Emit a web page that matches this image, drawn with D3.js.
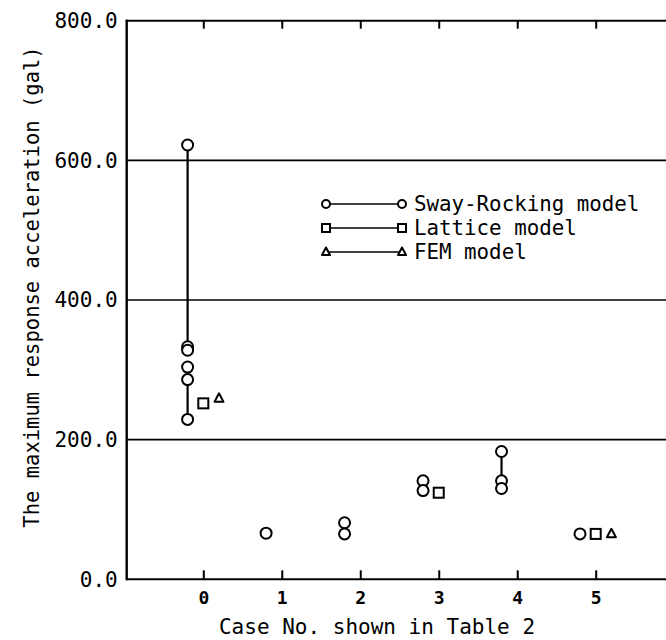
<!DOCTYPE html>
<html>
<head>
<meta charset="utf-8">
<script src="https://cdn.jsdelivr.net/npm/d3@7"></script>
<style>
  html, body { margin: 0; padding: 0; background: #fff; }
  svg { display: block; }
  text { font-family: "DejaVu Sans Mono", "Liberation Mono", monospace; fill: #000; }
</style>
</head>
<body>
<script>
// ---- data ----
const caseTicks = [0, 1, 2, 3, 4, 5];
const yTicks = [0, 200, 400, 600, 800];
const yTickLabels = ["0.0", "200.0", "400.0", "600.0", "800.0"];
const gridValues = [200, 400, 600];

const swayX = [-0.2, -0.2, -0.2, -0.2, -0.2, -0.2, 0.8, 1.8, 1.8, 2.8, 2.8, 3.8, 3.8, 3.8, 4.8];
const swayY = [622, 333, 328, 304, 286, 229, 66, 81, 65, 141, 127, 183, 141, 130, 65];
const swayLinesX = [-0.2, -0.2, 3.8];
const swayLinesFrom = [622, 286, 183];
const swayLinesTo = [333, 229, 141];

const latticeX = [0.0, 3.0, 5.0];
const latticeY = [252, 124, 65];

const femX = [0.2, 5.2];
const femY = [259, 65];

const legendLabels = ["Sway-Rocking model", "Lattice model", "FEM model"];
const legendSymbols = ["circle", "square", "triangle"];

const xTitle = "Case No. shown in Table 2";
const yTitle = "The maximum response acceleration (gal)";

// ---- layout ----
const W = 666, H = 640;
const pLeft = 126.7, pRight = 666, pTop = 20.7, pBottom = 579.3;

const svg = d3.select("body").append("svg").attr("width", W).attr("height", H);

const x = d3.scaleLinear().domain([0, 5]).range([203.3, 595.7]);
const y = d3.scaleLinear().domain([0, 800]).range([pBottom, pTop]);

// gridlines
svg.append("g").selectAll("line").data(gridValues).join("line")
  .attr("x1", pLeft).attr("x2", pRight)
  .attr("y1", d => y(d)).attr("y2", d => y(d))
  .attr("stroke", "#000").attr("stroke-width", 1.6);

// frame: left, top
svg.append("line").attr("x1", pLeft).attr("x2", pLeft).attr("y1", pTop - 1).attr("y2", pBottom + 1)
  .attr("stroke", "#000").attr("stroke-width", 2.4);
svg.append("line").attr("x1", pLeft - 1).attr("x2", pRight).attr("y1", pTop).attr("y2", pTop)
  .attr("stroke", "#000").attr("stroke-width", 2);

// bottom axis (ticks point upward)
const xAxis = d3.axisBottom(x).tickValues(caseTicks).tickSize(-9).tickPadding(12)
  .tickFormat(d3.format("d"));
const gx = svg.append("g").attr("transform", `translate(0,${pBottom})`).call(xAxis);
gx.select(".domain").remove();
gx.selectAll(".tick line").attr("stroke", "#000").attr("stroke-width", 2);
gx.selectAll(".tick text").attr("font-size", 18).attr("font-weight", "bold")
  .attr("font-family", "DejaVu Sans Mono");
svg.append("line").attr("x1", pLeft).attr("x2", pRight).attr("y1", pBottom).attr("y2", pBottom)
  .attr("stroke", "#000").attr("stroke-width", 2);

// top axis ticks (pointing down)
const xTopAxis = d3.axisTop(x).tickValues(caseTicks).tickSize(-8).tickFormat("");
const gt = svg.append("g").attr("transform", `translate(0,${pTop})`).call(xTopAxis);
gt.select(".domain").remove();
gt.selectAll(".tick line").attr("stroke", "#000").attr("stroke-width", 2);

// left axis labels
const yAxis = d3.axisLeft(y).tickValues(yTicks).tickSize(0).tickPadding(9)
  .tickFormat((d, i) => yTickLabels[i]);
const gy = svg.append("g").attr("transform", `translate(${pLeft},0)`).call(yAxis);
gy.select(".domain").remove();
gy.selectAll(".tick text").attr("font-size", 21).attr("font-family", "DejaVu Sans Mono");

// titles
svg.append("text").attr("x", 377).attr("y", 634).attr("text-anchor", "middle")
  .attr("font-size", 21).text(xTitle);
svg.append("text").attr("transform", `translate(39,${287}) rotate(-90)`)
  .attr("text-anchor", "middle").attr("font-size", 20.5).text(yTitle);

// symbol helpers
function drawSymbol(g, type, cx, cy, size) {
  if (type === "circle") {
    g.append("circle").attr("cx", cx).attr("cy", cy).attr("r", size)
      .attr("fill", "#fff").attr("stroke", "#000").attr("stroke-width", 2);
  } else if (type === "square") {
    g.append("rect").attr("x", cx - size).attr("y", cy - size)
      .attr("width", size * 2).attr("height", size * 2)
      .attr("fill", "#fff").attr("stroke", "#000").attr("stroke-width", 2);
  } else {
    const h = size * 1.9;
    g.append("path")
      .attr("d", `M${cx},${cy - h * 0.6} L${cx + size},${cy + h * 0.4} L${cx - size},${cy + h * 0.4} Z`)
      .attr("fill", "#fff").attr("stroke", "#000").attr("stroke-width", 2).attr("stroke-linejoin", "round");
  }
}

// data lines
const dl = svg.append("g");
swayLinesX.forEach((cx, i) => {
  dl.append("line").attr("x1", x(cx)).attr("x2", x(cx))
    .attr("y1", y(swayLinesFrom[i])).attr("y2", y(swayLinesTo[i]))
    .attr("stroke", "#000").attr("stroke-width", 2.2);
});

// markers
const mk = svg.append("g");
swayX.forEach((cx, i) => drawSymbol(mk, "circle", x(cx), y(swayY[i]), 5.5));
latticeX.forEach((cx, i) => drawSymbol(mk, "square", x(cx), y(latticeY[i]), 5));
femX.forEach((cx, i) => drawSymbol(mk, "triangle", x(cx), y(femY[i]), 4.5));

// legend
const lg = svg.append("g");
const legX1 = 326, legX2 = 402, legTextX = 414;
const legY = [204, 228, 252];
legendLabels.forEach((lab, i) => {
  lg.append("line").attr("x1", legX1).attr("x2", legX2).attr("y1", legY[i]).attr("y2", legY[i])
    .attr("stroke", "#000").attr("stroke-width", 1.5);
  drawSymbol(lg, legendSymbols[i], legX1, legY[i], 4);
  drawSymbol(lg, legendSymbols[i], legX2, legY[i], 4);
  lg.append("text").attr("x", legTextX).attr("y", legY[i]).attr("dy", "0.35em")
    .attr("font-size", 20.8).text(lab);
});
</script>
</body>
</html>
